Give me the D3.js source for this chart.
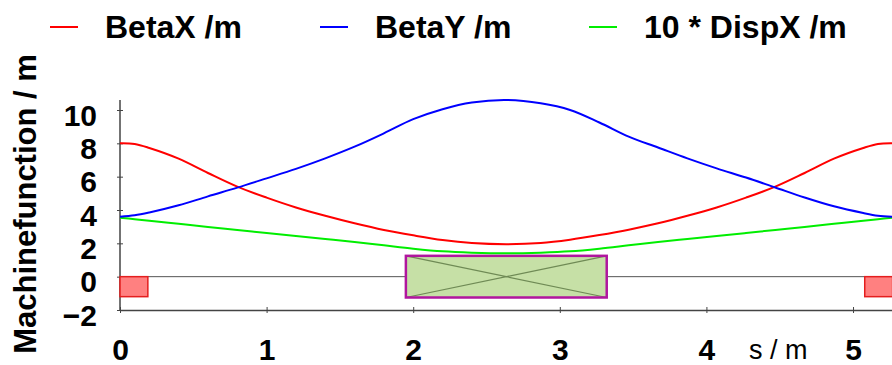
<!DOCTYPE html>
<html>
<head>
<meta charset="utf-8">
<script src="https://cdn.jsdelivr.net/npm/d3@7"></script>
<style>
  body { margin: 0; background: #fff; }
  svg { display: block; font-family: "Liberation Sans", Arial, sans-serif; }
  .axis path, .axis line { stroke: #444; }
  .axis text { font-size: 30px; font-weight: bold; fill: #000; }
</style>
</head>
<body>
<div id="chart"></div>
<script>
// lattice positions s / m
const sPos = [0, 0.1, 0.2, 0.4, 0.6, 0.8, 1.0, 1.2, 1.4, 1.6, 1.8, 2.0, 2.2, 2.4, 2.635,
  2.87, 3.07, 3.27, 3.47, 3.67, 3.87, 4.07, 4.27, 4.47, 4.67, 4.87, 5.07, 5.17, 5.27];

const betaX = [8.0, 7.96, 7.72, 7.08, 6.22, 5.4, 4.74, 4.15, 3.65, 3.2, 2.8, 2.48, 2.2, 2.02, 1.95,
  2.02, 2.22, 2.5, 2.82, 3.2, 3.65, 4.15, 4.74, 5.4, 6.22, 7.08, 7.72, 7.96, 8.0];

const betaY = [3.6, 3.68, 3.85, 4.28, 4.82, 5.34, 5.9, 6.47, 7.1, 7.8, 8.6, 9.45, 10.05, 10.45, 10.6,
  10.4, 10.0, 9.25, 8.4, 7.75, 7.1, 6.5, 5.95, 5.35, 4.75, 4.22, 3.82, 3.66, 3.6];

const dispX10 = [3.54, 3.45, 3.36, 3.17, 2.98, 2.8, 2.62, 2.44, 2.26, 2.08, 1.88, 1.68, 1.52, 1.44, 1.4,
  1.44, 1.52, 1.68, 1.88, 2.08, 2.26, 2.44, 2.62, 2.8, 2.98, 3.17, 3.36, 3.45, 3.54];

const seriesNames = ['BetaX /m', 'BetaY /m', '10 * DispX /m'];
const seriesColors = ['#ff0000', '#0000ff', '#00ee00'];

// lattice elements
const elemType = ['quad', 'dipole', 'quad'];
const elemStart = [0, 1.95, 5.08];
const elemEnd = [0.19, 3.32, 5.27];
const elemTop = [0, 1.25, 0];
const elemBottom = [-1.2, -1.25, -1.2];

const xTicks = [0, 1, 2, 3, 4, 5];
const yTicks = [-2, 0, 2, 4, 6, 8, 10];

const width = 892, height = 365;

const svg = d3.select('#chart').append('svg')
  .attr('width', width)
  .attr('height', height)
  .attr('viewBox', `0 0 ${width} ${height}`);

const x = d3.scaleLinear().domain([0, 5.27]).range([120, 892.6]);
const y = d3.scaleLinear().domain([-2, 10]).range([310, 110]);

// legend
const legend = svg.append('g');
const legendX = [50, 320, 589];
seriesNames.forEach((name, i) => {
  legend.append('line')
    .attr('x1', legendX[i]).attr('x2', legendX[i] + 28)
    .attr('y1', 27).attr('y2', 27)
    .attr('stroke', seriesColors[i])
    .attr('stroke-width', 2);
  legend.append('text')
    .attr('x', legendX[i] + 55)
    .attr('y', 37.5)
    .attr('font-size', 32)
    .attr('font-weight', 'bold')
    .text(name);
});

// y axis title
svg.append('text')
  .attr('transform', 'translate(36, 204) rotate(-90)')
  .attr('text-anchor', 'middle')
  .attr('font-size', 31)
  .attr('font-weight', 'bold')
  .text('Machinefunction / m');

// element baseline
svg.append('line')
  .attr('x1', x(0)).attr('x2', x(5.27))
  .attr('y1', y(0)).attr('y2', y(0))
  .attr('stroke', '#555')
  .attr('stroke-width', 1);

// axes
const yAxisG = svg.append('g')
  .attr('class', 'axis')
  .attr('transform', `translate(${x(0)},0)`)
  .call(d3.axisLeft(y).tickValues(yTicks).tickSize(3).tickPadding(20).tickSizeOuter(0));
yAxisG.select('.domain').attr('d', `M0,${y(-2)}V100`).attr('stroke-width', 1.5);
yAxisG.selectAll('.tick line').attr('x1', -3).attr('x2', 3);
yAxisG.selectAll('.tick text').attr('dy', '0.5em');

const xAxisG = svg.append('g')
  .attr('class', 'axis')
  .attr('transform', `translate(0,${y(-2)})`)
  .call(d3.axisBottom(x).tickValues(xTicks).tickFormat(d3.format('d')).tickSize(3).tickSizeOuter(0));
xAxisG.select('.domain').attr('stroke-width', 1.5);
xAxisG.selectAll('.tick line').attr('y1', -3).attr('y2', 3);
xAxisG.selectAll('.tick text').attr('y', 50).attr('dy', 0);

svg.append('text')
  .attr('x', 749)
  .attr('y', 359)
  .attr('font-size', 27)
  .text('s / m');

// elements
elemType.forEach((t, i) => {
  const x0 = x(elemStart[i]), x1 = x(elemEnd[i]);
  const y0 = y(elemTop[i]), y1 = y(elemBottom[i]);
  if (t === 'quad') {
    svg.append('rect')
      .attr('x', x0).attr('y', y0)
      .attr('width', x1 - x0).attr('height', y1 - y0)
      .attr('fill', '#ff8080')
      .attr('stroke', '#e41e1e')
      .attr('stroke-width', 1.5);
  } else {
    const g = svg.append('g');
    g.append('rect')
      .attr('x', x0).attr('y', y0)
      .attr('width', x1 - x0).attr('height', y1 - y0)
      .attr('fill', '#c6e0a6');
    g.append('path')
      .attr('d', `M${x0},${y0}L${x1},${y1}M${x0},${y1}L${x1},${y0}`)
      .attr('stroke', '#6f8a55')
      .attr('stroke-width', 1.2);
    g.append('rect')
      .attr('x', x0).attr('y', y0)
      .attr('width', x1 - x0).attr('height', y1 - y0)
      .attr('fill', 'none')
      .attr('stroke', '#b0169e')
      .attr('stroke-width', 2.5);
  }
});

// curves
const line = d3.line()
  .x((d, i) => x(sPos[i]))
  .y(d => y(d))
  .curve(d3.curveCatmullRom.alpha(0.5));

[dispX10, betaX, betaY].forEach((vals, k) => {
  const color = [seriesColors[2], seriesColors[0], seriesColors[1]][k];
  svg.append('path')
    .datum(vals)
    .attr('d', line)
    .attr('fill', 'none')
    .attr('stroke', color)
    .attr('stroke-width', 2);
});
</script>
</body>
</html>
